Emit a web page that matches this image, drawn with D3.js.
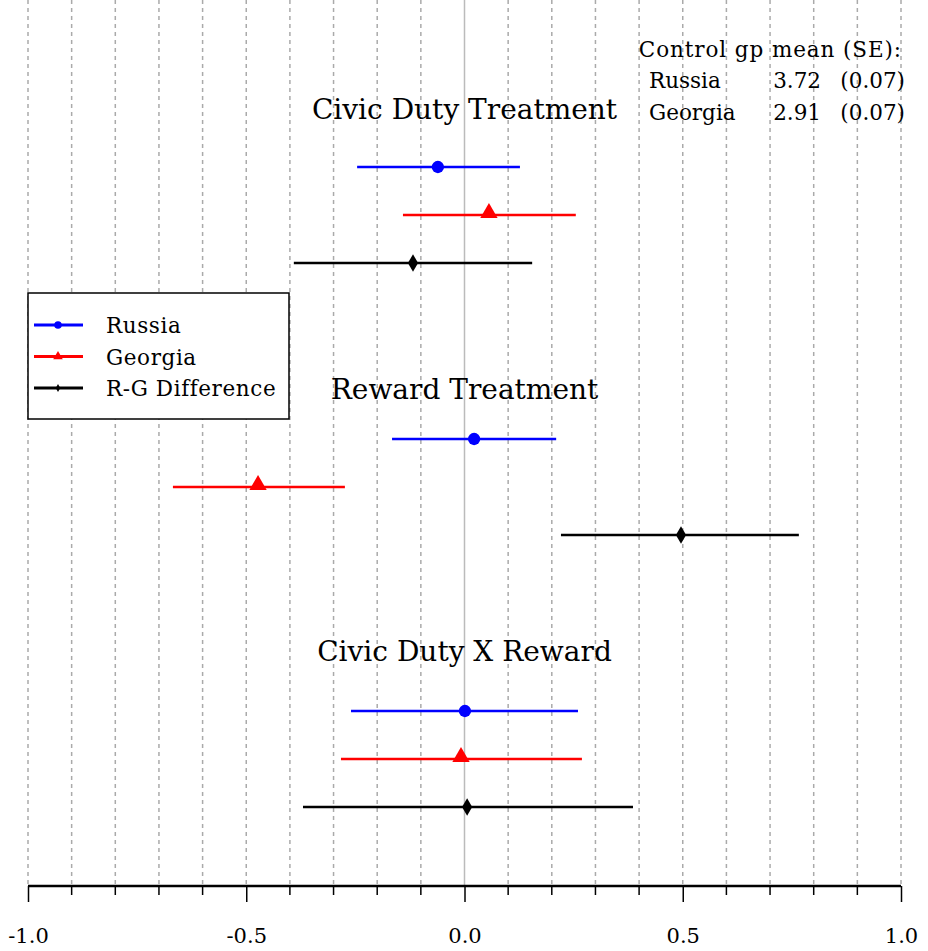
<!DOCTYPE html>
<html>
<head>
<meta charset="utf-8">
<script src="https://cdn.jsdelivr.net/npm/d3@7"></script>
<style>
  body { margin: 0; background: #fff; }
  text { font-family: "DejaVu Serif", serif; fill: #000; }
</style>
</head>
<body>
<svg id="chart"></svg>
<script>
const width = 928;
const height = 951;

// data
const groups = ['Civic Duty Treatment', 'Reward Treatment', 'Civic Duty X Reward'];
const series = ['Russia', 'Georgia', 'R-G Difference'];
const estimates = [
  [-0.061, 0.056, -0.118],
  [0.022, -0.473, 0.496],
  [0.001, -0.008, 0.006]
];
const lower = [
  [-0.246, -0.141, -0.391],
  [-0.166, -0.668, 0.221],
  [-0.260, -0.283, -0.370]
];
const upper = [
  [0.127, 0.255, 0.155],
  [0.210, -0.274, 0.766],
  [0.260, 0.269, 0.386]
];
const xTicks = [-1.0, -0.5, 0.0, 0.5, 1.0];
const controlRows = [['Russia', '3.72', '(0.07)'], ['Georgia', '2.91', '(0.07)']];

const colors = ['#0000ff', '#ff0000', '#000000'];
const symbols = [d3.symbolCircle, d3.symbolTriangle, d3.symbolDiamond];
const symSizes = [120, 130, 90];
const titleOffset = [-57, -49, -59];

const svg = d3.select('#chart')
  .attr('width', width)
  .attr('height', height);

const x = d3.scaleLinear()
  .domain([-1, 1])
  .range([28, 901]);

// row index -> y
const y = d3.scaleLinear()
  .domain([0, 1])
  .range([167, 439]);
const rowY = (g, s) => y(g) + s * 48;

const axisY = 886;

// grid
svg.append('g')
  .selectAll('line')
  .data(d3.range(-10, 11).map((d) => d / 10).filter((d) => d !== 0))
  .enter()
  .append('line')
  .attr('x1', (d) => x(d))
  .attr('x2', (d) => x(d))
  .attr('y1', 0)
  .attr('y2', axisY)
  .attr('stroke', '#aaa')
  .attr('stroke-width', 1.5)
  .attr('stroke-dasharray', '4,4');

svg.append('line')
  .attr('x1', x(0))
  .attr('x2', x(0))
  .attr('y1', 0)
  .attr('y2', axisY)
  .attr('stroke', '#bbb')
  .attr('stroke-width', 1.5);

// axis
const axis = d3.axisBottom(x)
  .tickValues(xTicks)
  .tickFormat(d3.format('.1f'))
  .tickSize(16)
  .tickSizeOuter(0)
  .tickPadding(24);

const ax = svg.append('g')
  .attr('transform', `translate(0,${axisY})`)
  .call(axis);
ax.select('.domain').attr('stroke-width', 2.5).attr('d', `M${x(-1)},0H${x(1)}`);
ax.selectAll('.tick line').attr('stroke-width', 1.5);
ax.selectAll('.tick text')
  .attr('font-size', 21)
  .attr('dy', null)
  .attr('y', 57)
  .style('font-family', '"DejaVu Serif", serif')
  .text((d) => d3.format('.1f')(d).replace('−', '-'));

ax.append('g')
  .selectAll('line')
  .data(d3.range(-10, 11).map((d) => d / 10).filter((d) => Math.abs(d * 10) % 5 !== 0))
  .enter()
  .append('line')
  .attr('x1', (d) => x(d))
  .attr('x2', (d) => x(d))
  .attr('y1', 0)
  .attr('y2', 9)
  .attr('stroke', '#000')
  .attr('stroke-width', 1.5);

// group titles
svg.append('g')
  .selectAll('text')
  .data(groups)
  .enter()
  .append('text')
  .attr('x', x(0))
  .attr('y', (d, g) => y(g) + titleOffset[g] + 9)
  .attr('text-anchor', 'middle')
  .attr('font-size', 28)
  .text((d) => d);

// intervals
const rows = [];
groups.forEach((gname, g) => {
  series.forEach((sname, s) => {
    rows.push({ g, s, est: estimates[g][s], lo: lower[g][s], hi: upper[g][s] });
  });
});

const marks = svg.append('g');
marks.selectAll('line')
  .data(rows)
  .enter()
  .append('line')
  .attr('x1', (d) => x(d.lo))
  .attr('x2', (d) => x(d.hi))
  .attr('y1', (d) => rowY(d.g, d.s))
  .attr('y2', (d) => rowY(d.g, d.s))
  .attr('stroke', (d) => colors[d.s])
  .attr('stroke-width', 2.5);

marks.selectAll('path')
  .data(rows)
  .enter()
  .append('path')
  .attr('transform', (d) => `translate(${x(d.est)},${rowY(d.g, d.s) + (d.s === 1 ? -2 : 0)})`)
  .attr('d', (d) => d3.symbol(symbols[d.s], symSizes[d.s])())
  .attr('fill', (d) => colors[d.s]);

// legend
const legend = svg.append('g')
  .attr('transform', 'translate(28,293)');
legend.append('rect')
  .attr('width', 261)
  .attr('height', 126)
  .attr('fill', '#fff')
  .attr('stroke', '#000')
  .attr('stroke-width', 1.5);
const li = legend.selectAll('g')
  .data(series)
  .enter()
  .append('g')
  .attr('transform', (d, i) => `translate(0,${32 + i * 31.5})`);
li.append('line')
  .attr('x1', 6)
  .attr('x2', 55)
  .attr('stroke', (d, i) => colors[i])
  .attr('stroke-width', 3);
li.append('path')
  .attr('transform', 'translate(30,0)')
  .attr('d', (d, i) => d3.symbol(symbols[i], [45, 40, 18][i])())
  .attr('fill', (d, i) => colors[i]);
li.append('text')
  .attr('x', 78)
  .attr('y', 8)
  .attr('font-size', 21.5)
  .attr('letter-spacing', 0.6)
  .text((d) => d);

// control group box
const ctrl = svg.append('g');
ctrl.append('text')
  .attr('x', 902)
  .attr('y', 57)
  .attr('text-anchor', 'end')
  .attr('font-size', 21.5)
  .attr('letter-spacing', 0.9)
  .text('Control gp mean (SE):');
const cr = ctrl.selectAll('g')
  .data(controlRows)
  .enter()
  .append('g')
  .attr('transform', (d, i) => `translate(0,${88 + i * 32})`);
cr.append('text').attr('x', 649).attr('font-size', 21.5).text((d) => d[0]);
cr.append('text').attr('x', 821).attr('text-anchor', 'end').attr('font-size', 21.5).text((d) => d[1]);
cr.append('text').attr('x', 905).attr('text-anchor', 'end').attr('font-size', 21.5).text((d) => d[2]);
</script>
</body>
</html>
